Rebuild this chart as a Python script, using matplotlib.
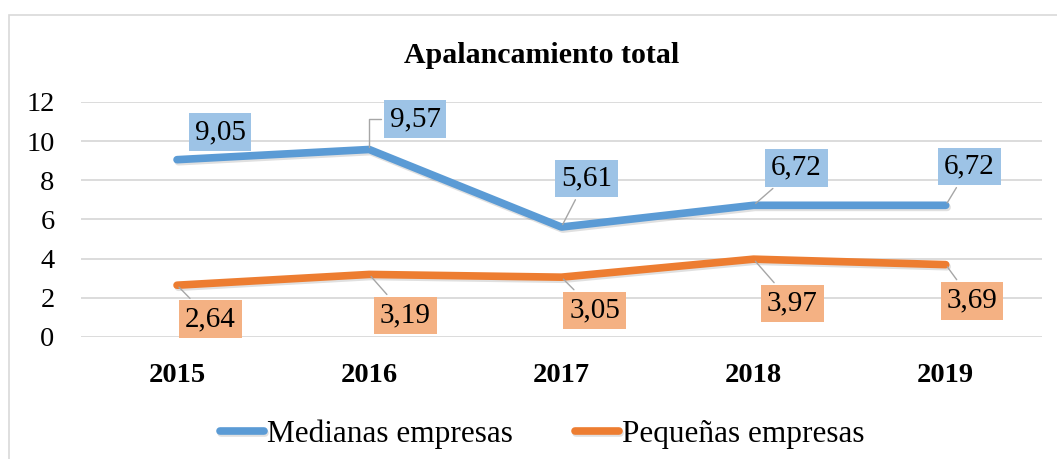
import matplotlib.pyplot as plt
import matplotlib.patheffects as pe
from matplotlib.patches import Rectangle

# data
years = ['2015', '2016', '2017', '2018', '2019']
medianas = [9.05, 9.57, 5.61, 6.72, 6.72]
pequenas = [2.64, 3.19, 3.05, 3.97, 3.69]

# label offsets (points) for each data label
off_med = [(31, 20), (33, 22), (18, 35), (31, 27), (17, 28)]
off_peq = [(24, -24.5), (26, -29.5), (24, -24), (28, -32), (19, -26)]

plt.rcParams['font.family'] = ['Liberation Serif', 'DejaVu Serif']
FS = 20.5

fig = plt.figure(figsize=(10.57, 4.59), dpi=100)
ax = fig.add_axes([0.0766, 0.266, 0.909, 0.512])

x = list(range(len(years)))
shadow = [pe.SimpleLineShadow(offset=(1, -1.5), alpha=0.12, shadow_color='k'), pe.Normal()]
ax.plot(x, medianas, color='#5B9BD5', lw=5.5, solid_capstyle='round',
        path_effects=shadow, label='Medianas empresas', zorder=3)
ax.plot(x, pequenas, color='#ED7D31', lw=5.5, solid_capstyle='round',
        path_effects=shadow, label='Pequeñas empresas', zorder=3)

def fmt(v):
    return ('%.2f' % v).replace('.', ',')

for i, v in enumerate(medianas):
    if i == 0:
        ap = None
    elif i == 1:
        ap = dict(arrowstyle='-', color='#A6A6A6', lw=1,
                  connectionstyle='angle,angleA=0,angleB=90,rad=0')
    else:
        ap = dict(arrowstyle='-', color='#A6A6A6', lw=1)
    ax.annotate(fmt(v), (i, v), xytext=off_med[i], textcoords='offset points',
                ha='center', va='center', fontsize=21, zorder=5,
                bbox=dict(boxstyle='square,pad=0.2', fc='#9DC3E6', ec='none'),
                arrowprops=ap)
for i, v in enumerate(pequenas):
    ax.annotate(fmt(v), (i, v), xytext=off_peq[i], textcoords='offset points',
                ha='center', va='center', fontsize=21, zorder=5,
                bbox=dict(boxstyle='square,pad=0.2', fc='#F4B183', ec='none'),
                arrowprops=dict(arrowstyle='-', color='#A6A6A6', lw=1))

ax.set_xlim(-0.5, 4.5)
ax.set_ylim(0, 12)
ax.set_yticks([0, 2, 4, 6, 8, 10, 12])
ax.set_xticks(x)
ax.set_xticklabels(years, fontweight='bold')
ax.tick_params(axis='both', length=0, labelsize=FS)
ax.tick_params(axis='x', pad=19)
ax.tick_params(axis='y', pad=19)
ax.grid(axis='y', color='#D9D9D9', lw=1.3)
ax.set_axisbelow(True)
for s in ax.spines.values():
    s.set_visible(False)

fig.text(0.512, 0.88, 'Apalancamiento total', ha='center', va='center',
         fontsize=21.5, fontweight='bold')

ax.legend(loc='upper center', bbox_to_anchor=(0.48, -0.232), ncol=2, frameon=False,
          fontsize=22.5, handlelength=1.4, handletextpad=0.1, columnspacing=2.0)

fig.patches.append(Rectangle((0.0085, -0.1), 1.2, 1.067, transform=fig.transFigure,
                             fill=False, ec='#D9D9D9', lw=1.2))

fig.savefig('out.png', dpi=100)
